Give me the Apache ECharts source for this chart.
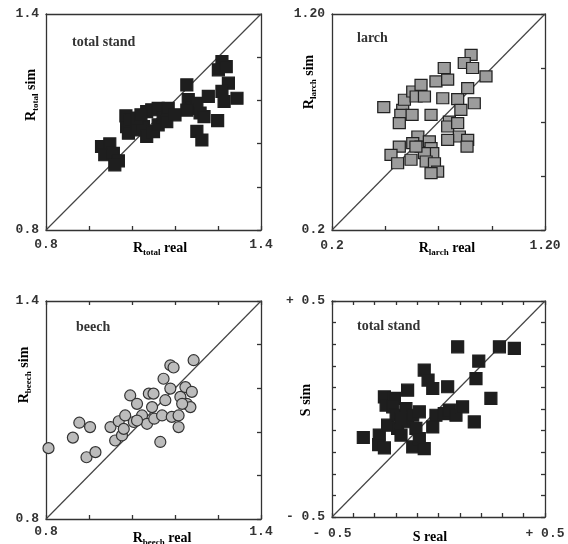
<!DOCTYPE html>
<html lang="en">
<head>
<meta charset="UTF-8">
<title>real vs sim</title>
<script src="https://cdn.jsdelivr.net/npm/echarts@6/dist/echarts.min.js"></script>
<style>
html, body { margin: 0; padding: 0; background: #fff; }
#main { width: 568px; height: 544px; }
</style>
</head>
<body>
<div id="main"></div>
<script>
// panel 1: R total, real vs sim
var totalReal = [0.955, 0.978, 0.964, 0.988, 1.002, 0.992, 1.023, 1.025, 1.036, 1.030, 1.053, 1.081, 1.095, 1.113,
                 1.072, 1.081, 1.100, 1.113, 1.127, 1.141, 1.137, 1.160, 1.193, 1.197, 1.207, 1.221, 1.230, 1.241,
                 1.221, 1.235, 1.253, 1.279, 1.291, 1.281, 1.303, 1.309, 1.291, 1.297, 1.333, 1.193, 1.053, 1.065];
var totalSim  = [1.032, 1.039, 1.009, 1.013, 0.992, 0.981, 1.117, 1.087, 1.106, 1.069, 1.078, 1.129, 1.134, 1.138,
                 1.087, 1.060, 1.073, 1.092, 1.115, 1.138, 1.101, 1.120, 1.203, 1.162, 1.138, 1.152, 1.125, 1.115,
                 1.074, 1.050, 1.171, 1.104, 1.268, 1.245, 1.254, 1.208, 1.185, 1.157, 1.166, 1.133, 1.111, 1.120];

// panel 2: R larch
var larchReal = [0.443, 0.532, 0.540, 0.523, 0.516, 0.576, 0.579, 0.595, 0.618, 0.634, 0.665, 0.688, 0.727, 0.743,
                 0.720, 0.790, 0.805, 0.751, 0.743, 0.790, 0.837, 0.853, 0.821, 0.860, 0.923, 0.868, 0.798, 0.837,
                 0.834, 0.743, 0.603, 0.579, 0.618, 0.657, 0.665, 0.673, 0.634, 0.642, 0.681, 0.696, 0.665, 0.571,
                 0.516, 0.477, 0.508, 0.594];
var larchSim  = [0.769, 0.756, 0.803, 0.733, 0.695, 0.733, 0.841, 0.818, 0.872, 0.818, 0.733, 0.888, 0.950, 0.896,
                 0.810, 0.806, 0.756, 0.702, 0.679, 0.695, 0.857, 1.011, 0.973, 0.950, 0.911, 0.787, 0.633, 0.617,
                 0.586, 0.617, 0.633, 0.602, 0.586, 0.610, 0.579, 0.556, 0.556, 0.517, 0.509, 0.470, 0.463, 0.525,
                 0.586, 0.548, 0.509, 0.586];

// panel 3: R beech
var beechReal = [0.807, 0.875, 0.893, 0.923, 0.913, 0.938, 0.980, 0.993, 1.003, 1.012, 1.021, 1.035, 1.045, 1.054,
                 1.068, 1.082, 1.087, 1.096, 1.100, 1.102, 1.119, 1.124, 1.128, 1.133, 1.147, 1.147, 1.156, 1.151,
                 1.170, 1.170, 1.175, 1.189, 1.193, 1.203, 1.207, 1.212, 1.180, 1.017, 1.054];
var beechSim  = [0.995, 1.024, 1.065, 1.053, 0.970, 0.984, 1.053, 1.016, 1.069, 1.030, 1.085, 1.140, 1.067, 1.117,
                 1.085, 1.062, 1.145, 1.108, 1.145, 1.076, 1.012, 1.085, 1.186, 1.127, 1.159, 1.223, 1.217, 1.081,
                 1.085, 1.053, 1.136, 1.163, 1.117, 1.108, 1.150, 1.237, 1.117, 1.048, 1.071];

// panel 4: S total stand
var sReal = [-0.353, -0.278, -0.281, -0.254, -0.254, -0.246, -0.207, -0.215, -0.199, -0.239, -0.192, -0.176, -0.145,
             -0.153, -0.145, -0.121, -0.090, -0.106, -0.121, -0.090, -0.067, -0.067, -0.049, -0.027, -0.027, -0.012,
             0.027, 0.043, 0.051, 0.082, 0.113, 0.090, 0.168, 0.176, 0.189, 0.246, 0.286, 0.356, -0.176];
var sSim  = [-0.132, -0.121, -0.165, -0.180, 0.056, 0.018, 0.049, 0.010, -0.029, -0.075, -0.090, -0.121, 0.087,
             0.002, -0.059, -0.029, -0.013, -0.090, -0.175, -0.137, -0.183, 0.180, 0.134, 0.095, -0.083, -0.029,
             -0.021, 0.103, -0.005, -0.029, 0.010, 0.288, -0.060, 0.141, 0.222, 0.049, 0.288, 0.281, -0.044];

var panels = [
    { x: totalReal, y: totalSim, min: 0.8, max: 1.4, step: 0.12, lo: '0.8', hi: '1.4',
      grid: [46, 14, 215, 216], label: 'total stand', labelPos: [72, 35],
      xTitle: ['R', 'total', ' real'], xTitlePos: [160, 248], yTitle: ['R', 'total', ' sim'], yTitlePos: [31, 95],
      ticks: { left: false, top: false }, margin: 8,
      symbol: 'rect', size: 12, color: '#1e1e1e', border: '#1e1e1e' },
    { x: larchReal, y: larchSim, min: 0.2, max: 1.2, step: 0.25, lo: '0.2', hi: '1.20',
      grid: [332, 14, 213, 216], label: 'larch', labelPos: [357, 31],
      xTitle: ['R', 'larch', ' real'], xTitlePos: [447, 248], yTitle: ['R', 'larch', ' sim'], yTitlePos: [309, 82],
      ticks: { left: false, top: false }, margin: 9,
      symbol: 'rect', size: [12, 11], color: '#9c9c9c', border: '#222' },
    { x: beechReal, y: beechSim, min: 0.8, max: 1.4, step: 0.12, lo: '0.8', hi: '1.4',
      grid: [46, 301, 215, 218], label: 'beech', labelPos: [76, 320],
      xTitle: ['R', 'beech', ' real'], xTitlePos: [162, 538], yTitle: ['R', 'beech', ' sim'], yTitlePos: [24, 375],
      ticks: { left: false, top: true }, margin: 6,
      symbol: 'circle', size: 11, color: '#bcbcbc', border: '#333' },
    { x: sReal, y: sSim, min: -0.5, max: 0.5, step: 0.1, lo: '- 0.5', hi: '+ 0.5',
      grid: [332, 301, 213, 216], label: 'total stand', labelPos: [357, 319],
      xTitle: ['S', '', ' real'], xTitlePos: [430, 537], yTitle: ['S', '', ' sim'], yTitlePos: [306, 400],
      ticks: { left: true, top: true }, margin: 10,
      symbol: 'rect', size: 12, color: '#1e1e1e', border: '#1e1e1e' }
];

var serif = '"Liberation Serif", "DejaVu Serif", serif';
var mono = '"Liberation Mono", "DejaVu Sans Mono", monospace';
var lineStyle = { color: '#333', width: 1.3 };

function near(a, b) { return Math.abs(a - b) < 1e-6; }

function labelFn(p) {
    return function (v) {
        if (near(v, p.min)) return p.lo;
        if (near(v, p.max)) return p.hi;
        return '';
    };
}

var grids = [], xAxes = [], yAxes = [], series = [], graphics = [];

var titleRich = {
    m: { fontFamily: serif, fontSize: 14, fontWeight: 'bold', color: '#222', lineHeight: 18, verticalAlign: 'middle' },
    s: { fontFamily: serif, fontSize: 9, fontWeight: 'bold', color: '#222', lineHeight: 18, verticalAlign: 'bottom' }
};

function titleText(t) {
    return '{m|' + t[0] + '}' + (t[1] ? '{s|' + t[1] + '}' : '') + '{m|' + t[2] + '}';
}

panels.forEach(function (p, i) {
    grids.push({ left: p.grid[0], top: p.grid[1], width: p.grid[2], height: p.grid[3] });
    var common = {
        type: 'value', gridIndex: i, min: p.min, max: p.max, interval: p.step,
        splitLine: { show: false },
        axisLine: { show: true, onZero: false, lineStyle: lineStyle }
    };
    // main axes with labels
    xAxes.push(Object.assign({}, common, {
        position: 'bottom',
        axisTick: { show: true, inside: true, length: 4, lineStyle: lineStyle },
        axisLabel: { formatter: labelFn(p), fontFamily: mono, fontSize: 13, fontWeight: 'bold', color: '#333', margin: p.margin }
    }));
    yAxes.push(Object.assign({}, common, {
        position: 'left',
        axisTick: { show: p.ticks.left, inside: true, length: 4, lineStyle: lineStyle },
        axisLabel: { formatter: labelFn(p), fontFamily: mono, fontSize: 13, fontWeight: 'bold', color: '#333', margin: 7 }
    }));
    series.push({
        type: 'line', xAxisIndex: i, yAxisIndex: i, silent: true,
        data: [[p.min, p.min], [p.max, p.max]], symbol: 'none',
        lineStyle: { color: '#444', width: 1.2 }, z: 1
    });
    series.push({
        type: 'scatter', xAxisIndex: i, yAxisIndex: i,
        data: p.x.map(function (v, k) { return [v, p.y[k]]; }),
        symbol: p.symbol, symbolSize: p.size,
        itemStyle: { color: p.color, borderColor: p.border, borderWidth: 1.2, opacity: 1 },
        z: 3
    });
    graphics.push({
        type: 'text', left: p.labelPos[0], top: p.labelPos[1],
        style: { text: p.label, fontFamily: serif, fontSize: 14, fontWeight: 'bold', fill: '#333' }
    });
    graphics.push({
        type: 'text', x: p.xTitlePos[0], y: p.xTitlePos[1],
        style: { text: titleText(p.xTitle), rich: titleRich, align: 'center', verticalAlign: 'middle' }
    });
    graphics.push({
        type: 'text', x: p.yTitlePos[0], y: p.yTitlePos[1], rotation: Math.PI / 2,
        style: { text: titleText(p.yTitle), rich: titleRich, align: 'center', verticalAlign: 'middle' }
    });
});

// mirror axes: top and right frame edges with inward ticks
panels.forEach(function (p, i) {
    var common = {
        type: 'value', gridIndex: i, min: p.min, max: p.max, interval: p.step,
        splitLine: { show: false }, axisLabel: { show: false },
        axisLine: { show: true, onZero: false, lineStyle: lineStyle }
    };
    xAxes.push(Object.assign({}, common, {
        position: 'top',
        axisTick: { show: p.ticks.top, inside: true, length: 4, lineStyle: lineStyle }
    }));
    yAxes.push(Object.assign({}, common, {
        position: 'right',
        axisTick: { show: true, inside: true, length: 4, lineStyle: lineStyle }
    }));
});

var myChart = echarts.init(document.getElementById('main'));
myChart.setOption({
    animation: false,
    backgroundColor: '#fff',
    grid: grids,
    xAxis: xAxes,
    yAxis: yAxes,
    series: series,
    graphic: graphics
});
</script>
</body>
</html>
